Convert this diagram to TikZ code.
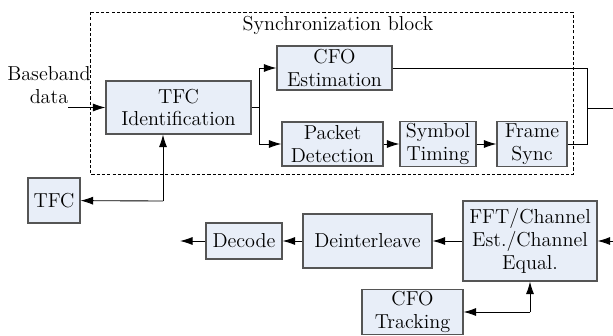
\documentclass[tikz,border=0pt]{standalone}
\usetikzlibrary{arrows.meta}
\definecolor{boxfill}{HTML}{E8EEF8}
\definecolor{boxdraw}{HTML}{555555}
\tikzset{
  blk/.style={draw=boxdraw,fill=boxfill,line width=0.6pt,align=center,inner sep=1pt,
    font=\fontsize{11.5}{13}\selectfont},
  sig/.style={-{Latex[length=2.5mm,width=1.6mm]},line width=0.5pt},
}
\begin{document}
\begin{tikzpicture}[x=0.2mm,y=-0.2mm]
  \useasboundingbox (0,0) rectangle (613,335);
  % synchronization block
  \draw[dash pattern=on 1.8pt off 1.2pt,line width=0.5pt] (90,12) rectangle (573,174);
  \node[font=\fontsize{11.5}{13}\selectfont] (synclbl) at (338,25) {Synchronization block};
  \node[align=center,font=\fontsize{11.5}{13}\selectfont] (bbdata) at (49,85) {Baseband\\data};
  \node[blk,minimum width=145*0.2mm,minimum height=53*0.2mm] (tfcid) at (178.5,107.5) {TFC\\Identification};
  \node[blk,minimum width=115*0.2mm,minimum height=44*0.2mm] (cfoest) at (334.5,68) {CFO\\Estimation};
  \node[blk,minimum width=101*0.2mm,minimum height=44*0.2mm] (pktdet) at (332.5,144) {Packet\\Detection};
  \node[blk,minimum width=76*0.2mm,minimum height=44*0.2mm] (symtim) at (438,144) {Symbol\\Timing};
  \node[blk,minimum width=70*0.2mm,minimum height=44*0.2mm] (frsync) at (532,144) {Frame\\Sync};
  \node[blk,minimum width=52*0.2mm,minimum height=45*0.2mm] (tfc) at (54,200.5) {TFC};
  % receiver chain
  \node[blk,minimum width=76*0.2mm,minimum height=36*0.2mm] (decode) at (244,241) {Decode};
  \node[blk,minimum width=129*0.2mm,minimum height=54*0.2mm] (deint) at (367.5,241) {Deinterleave};
  \node[blk,minimum width=134*0.2mm,minimum height=80*0.2mm] (fft) at (530,241) {FFT/Channel\\Est./Channel\\Equal.};
  \node[blk,minimum width=101*0.2mm,minimum height=44*0.2mm] (cfotrk) at (412.5,312) {CFO\\Tracking};
  \coordinate (split) at (259,107.5);
  \coordinate (join) at (587,108);
  \coordinate (tfcbend) at (163,201);
  \coordinate (trkbend) at (530,312);
  \coordinate (inleft) at (68,107.5);
  \coordinate (outright) at (613,108);
  \coordinate (fftin) at (613,241);
  \coordinate (decout) at (180,241);
  % connections
  \draw[sig] (inleft) -- (tfcid);
  \draw (tfcid) -- (split);
  \draw[sig] (split) |- (cfoest);
  \draw[sig] (split) |- (pktdet);
  \draw[sig] (pktdet) -- (symtim);
  \draw[sig] (symtim) -- (frsync);
  \draw (cfoest.east) -| (join);
  \draw (frsync.east) -| (join);
  \draw (join) -- (outright);
  \draw[sig] (tfcbend) -- (tfcid.south -| tfcbend);
  \draw[sig] (tfcbend) -- (tfc);
  \draw[sig] (fftin) -- (fft);
  \draw[sig] (fft) -- (deint);
  \draw[sig] (deint) -- (decode);
  \draw[sig] (decode) -- (decout);
  \draw[sig] (trkbend) -- (fft.south -| trkbend);
  \draw[sig] (trkbend) -- (cfotrk);
\end{tikzpicture}
\end{document}
